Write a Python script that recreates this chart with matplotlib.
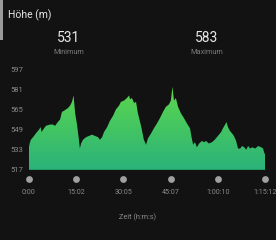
import numpy as np
import matplotlib
matplotlib.use("Agg")
import matplotlib.pyplot as plt
from matplotlib.colors import LinearSegmentedColormap

plt.rcParams['font.family'] = ['Roboto', 'DejaVu Sans']

# elevation profile (time in minutes, height in m)
t_min = [0, 0.2, 0.6, 1.3, 2.2, 3.2, 3.7, 4.0, 4.5, 5.4, 6.7, 7.6, 8.3, 9.2, 9.9,
         10.5, 11.2, 11.8, 12.4, 13.1, 13.7, 14.2, 14.7, 15.3, 15.9, 16.2, 16.6,
         17.2, 18.2, 19.1, 20.1, 21.0, 22.0, 22.6, 23.3, 23.9, 24.9, 25.8, 26.8,
         27.7, 28.7, 29.3, 30.3, 31.2, 31.9, 32.2, 32.8, 33.5, 34.1, 34.7, 35.7,
         36.6, 37.3, 37.9, 38.9, 39.8, 40.8, 41.7, 42.7, 43.6, 44.6, 45.2, 45.7,
         46.2, 46.8, 47.5, 48.4, 49.4, 50.3, 51.3, 51.8, 52.3, 52.9, 53.5, 54.2,
         55.1, 55.8, 56.4, 57.3, 58.3, 59.2, 60.2, 61.2, 61.8, 62.5, 62.9, 63.4,
         64.0, 64.7, 65.3, 66.0, 66.6, 67.3, 67.9, 68.6, 69.2, 69.8, 70.5, 71.1,
         72.1, 73.0, 74.0, 74.6, 75.0, 75.2]
hoehe = [535, 538, 541, 543, 546, 549, 551, 547, 549, 552, 553, 553, 552, 555, 557,
         563, 564, 565, 566, 568, 571, 576, 562, 553, 541, 534, 538,
         541, 543, 544, 545, 544, 543, 541, 543, 547, 551, 556, 560,
         565, 568, 571, 572, 574, 576, 573, 574, 570, 571, 562, 552,
         541, 537, 542, 546, 550, 554, 558, 563, 567, 569, 572, 583,
         572, 574, 567, 562, 558, 554, 550, 543, 537, 539, 535, 538,
         540, 539, 540, 538, 539, 541, 544, 547, 550, 553, 555, 551,
         548, 546, 544, 540, 534, 534, 536, 535, 533, 536, 534, 535,
         534, 536, 535, 534, 530, 530]

y_ticks = [517, 533, 549, 565, 581, 597]
x_ticks = [0, 15 + 2/60, 30 + 5/60, 45 + 7/60, 60 + 10/60, 75 + 12/60]
x_labels = ['0:00', '15:02', '30:05', '45:07', '1:00:10', '1:15:12']

bg = '#121212'
fig = plt.figure(figsize=(2.76, 2.4), dpi=100, facecolor=bg)
ax = fig.add_axes([29/276, 1 - 170/240, 236/276, 101/240])
ax.set_facecolor(bg)
ax.set_xlim(0, x_ticks[-1])
ax.set_ylim(517, 597)

# gradient fill clipped to the profile
poly = ax.fill_between(t_min, hoehe, 517, color='none', lw=0)
cmap = LinearSegmentedColormap.from_list('g', ['#2ab27b', '#5dd84a'])
grad = np.linspace(0, 1, 256).reshape(-1, 1)
img = ax.imshow(grad, cmap=cmap, aspect='auto', origin='lower',
                extent=[0, x_ticks[-1], 517, 584], zorder=1)
img.set_clip_path(poly.get_paths()[0], transform=ax.transData)
ax.axhline(517, color='#1f9a5c', lw=1.2, zorder=2)

for s in ax.spines.values():
    s.set_visible(False)
ax.set_yticks(y_ticks)
ax.tick_params(axis='y', length=0, pad=4, labelsize=5.5, labelcolor='#8a8a8a')
ax.set_xticks(x_ticks)
ax.set_xticklabels(x_labels)
ax.tick_params(axis='x', length=0, pad=14, labelsize=5.1, labelcolor='#8a8a8a')
ax.scatter(x_ticks, [510] * len(x_ticks), s=24, color='#a0a0a0', clip_on=False, zorder=3, lw=0)

fig.text(0.5, 1 - 217/240, 'Zeit (h:m:s)', ha='center', va='center', fontsize=5.3, color='#8a8a8a')

fig.text(8/276, 1 - 15/240, 'Höhe (m)', ha='left', va='center', fontsize=7.5, color='#e8e8e8')
fig.text(69/276, 1 - 38/240, '531', ha='center', va='center', fontsize=10, color='#e8e8e8')
fig.text(69/276, 1 - 53/240, 'Minimum', ha='center', va='center', fontsize=5.3, color='#7a7a7a')
fig.text(207/276, 1 - 38/240, '583', ha='center', va='center', fontsize=10, color='#e8e8e8')
fig.text(207/276, 1 - 53/240, 'Maximum', ha='center', va='center', fontsize=5.3, color='#7a7a7a')

# small gray bar at top-left edge
fig.add_artist(plt.Rectangle((0, 1 - 40/240), 3/276, 40/240, transform=fig.transFigure,
                             color='#9a9a9a', lw=0))

fig.savefig('out.png', dpi=100, facecolor=bg)
